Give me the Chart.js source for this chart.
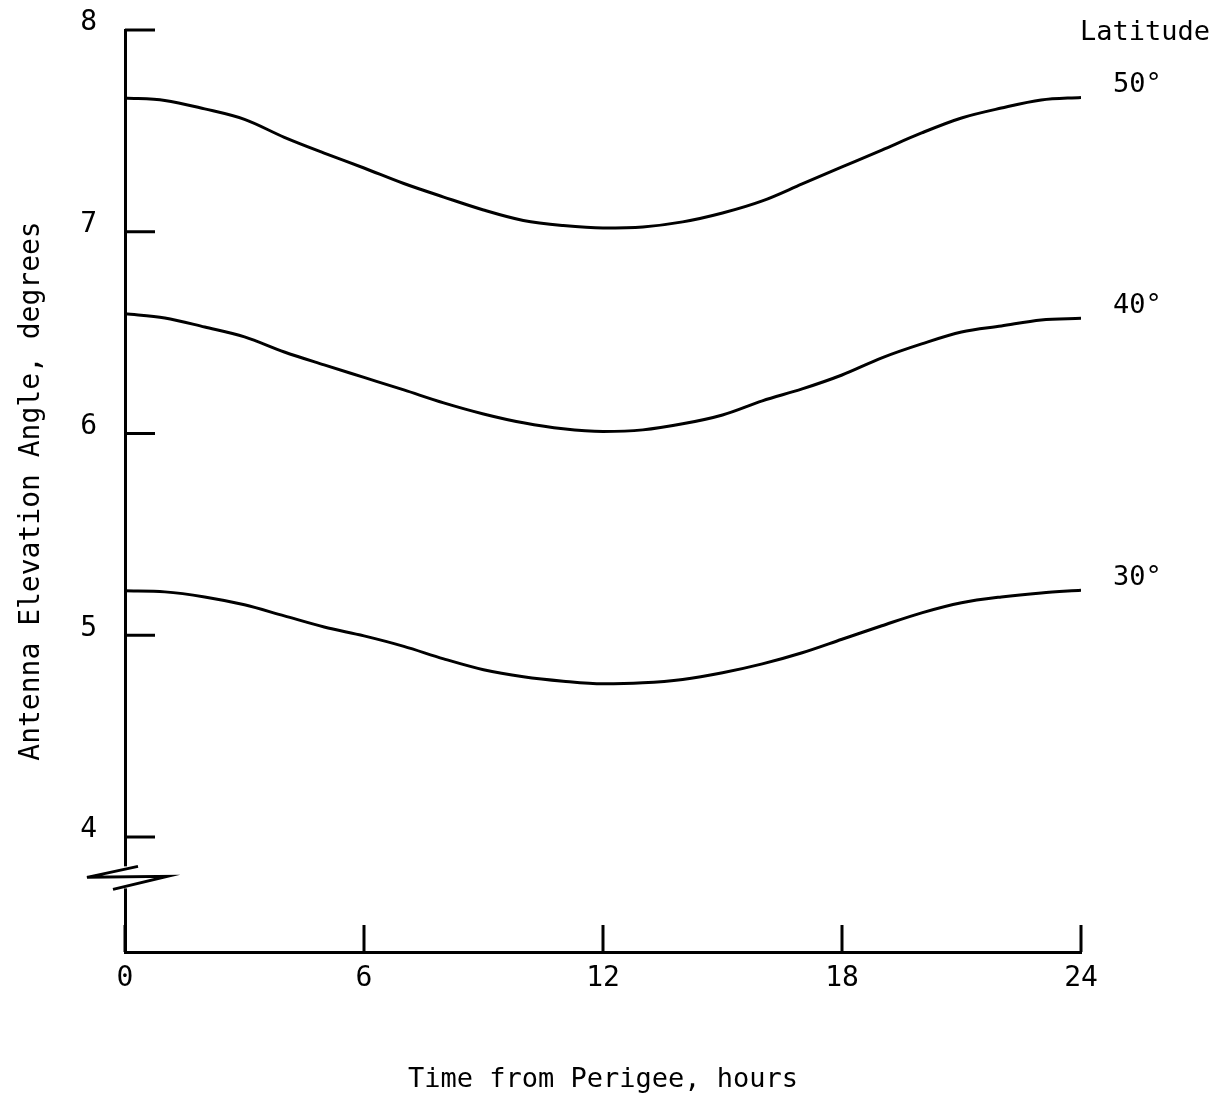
<!DOCTYPE html>
<html><head><meta charset="utf-8">
<script src="https://cdn.jsdelivr.net/npm/chart.js@4"></script>
<style>html,body{margin:0;padding:0;background:#fff}canvas{display:block}</style>
</head><body>
<canvas id="c" width="1232" height="1101"></canvas>
<script>
// ---- data ----
const hours = [0,1,2,3,4,5,6,7,8,9,10,11,12,13,14,15,16,17,18,19,20,21,22,23,24];
const lat50 = [7.663,7.651,7.609,7.557,7.468,7.390,7.316,7.239,7.172,7.108,7.056,7.031,7.019,7.024,7.049,7.093,7.153,7.237,7.321,7.405,7.490,7.564,7.613,7.653,7.666];
const lat40 = [6.593,6.573,6.528,6.479,6.404,6.340,6.278,6.216,6.152,6.097,6.053,6.023,6.010,6.018,6.048,6.092,6.162,6.221,6.290,6.375,6.444,6.503,6.533,6.563,6.571];
const lat30 = [5.220,5.215,5.190,5.151,5.096,5.041,4.997,4.945,4.883,4.829,4.794,4.772,4.759,4.764,4.781,4.814,4.858,4.913,4.980,5.047,5.111,5.161,5.190,5.210,5.223];
const seriesLabels = ['50°','40°','30°'];
const xTickValues = [0,6,12,18,24];
const yTickValues = [4,5,6,7,8];
const xTitle = 'Time from Perigee, hours';
const yTitle = 'Antenna Elevation Angle, degrees';
const legendTitle = 'Latitude';
const yBreakValue = 3.8;

const FONT = "'DejaVu Sans Mono', monospace";
const toPts = arr => arr.map((v, i) => ({x: hours[i], y: v}));
const series = [lat50, lat40, lat30];

const decor = {
  id: 'decor',
  beforeDraw(chart) {
    const c = chart.ctx;
    c.save(); c.fillStyle = '#fff'; c.fillRect(0, 0, chart.width, chart.height); c.restore();
  },
  afterDraw(chart) {
    const c = chart.ctx, xs = chart.scales.x, ys = chart.scales.y, a = chart.chartArea;
    c.save();
    c.strokeStyle = '#000'; c.lineWidth = 3; c.lineCap = 'butt';
    // y tick marks (inside)
    yTickValues.forEach(v => {
      const py = ys.getPixelForValue(v);
      c.beginPath(); c.moveTo(a.left, py); c.lineTo(a.left + 30, py); c.stroke();
    });
    // x tick marks (upward)
    xTickValues.forEach(v => {
      const px = xs.getPixelForValue(v);
      c.beginPath(); c.moveTo(px, a.bottom); c.lineTo(px, a.bottom - 27); c.stroke();
    });
    // axis break
    const pb = ys.getPixelForValue(yBreakValue);
    c.fillStyle = '#fff';
    c.fillRect(a.left - 6, pb - 11, 12, 22);
    c.beginPath();
    c.moveTo(a.left + 13, pb - 11);
    c.lineTo(a.left - 38, pb);
    c.lineTo(a.left + 42, pb - 1);
    c.lineTo(a.left - 12, pb + 12);
    c.stroke();
    // right-hand labels
    c.fillStyle = '#000';
    c.font = '27px ' + FONT;
    c.textAlign = 'left'; c.textBaseline = 'middle';
    c.fillText(legendTitle, a.right - 1, 33);
    series.forEach((s, i) => {
      const py = ys.getPixelForValue(s[s.length - 1]) - 12;
      c.fillText(seriesLabels[i], a.right + 32, py);
    });
    c.restore();
  }
};

new Chart(document.getElementById('c').getContext('2d'), {
  type: 'line',
  data: {
    datasets: series.map((s, i) => ({
      label: seriesLabels[i],
      data: toPts(s),
      borderColor: '#000',
      borderWidth: 3,
      pointRadius: 0,
      fill: false,
      cubicInterpolationMode: 'monotone'
    }))
  },
  options: {
    responsive: false,
    animation: false,
    devicePixelRatio: 1,
    layout: {padding: {left: 0, top: 30, right: 151, bottom: 0}},
    plugins: {legend: {display: false}, tooltip: {enabled: false}},
    scales: {
      x: {
        type: 'linear', min: 0, max: 24,
        afterFit(s) { s.height = 149; s.paddingLeft = 0; s.paddingRight = 0; },
        afterBuildTicks(s) { s.ticks = xTickValues.map(v => ({value: v})); },
        grid: {display: false, drawTicks: false},
        border: {display: true, color: '#000', width: 3},
        ticks: {color: '#000', font: {family: FONT, size: 28}, padding: 10, maxRotation: 0, autoSkip: false},
        title: {display: true, text: xTitle, color: '#000', font: {family: FONT, size: 27}, padding: {top: 0, bottom: 5}}
      },
      y: {
        type: 'linear', min: 3.43, max: 8,
        afterFit(s) { s.width = 125; s.paddingTop = 0; s.paddingBottom = 0; },
        afterBuildTicks(s) { s.ticks = yTickValues.map(v => ({value: v})); },
        grid: {display: false, drawTicks: false},
        border: {display: true, color: '#000', width: 3},
        ticks: {color: '#000', font: {family: FONT, size: 28}, padding: 28, labelOffset: -7, autoSkip: false},
        title: {display: true, text: yTitle, color: '#000', font: {family: FONT, size: 28}, padding: {top: 15, bottom: 0}}
      }
    }
  },
  plugins: [decor]
});
</script>
</body></html>
